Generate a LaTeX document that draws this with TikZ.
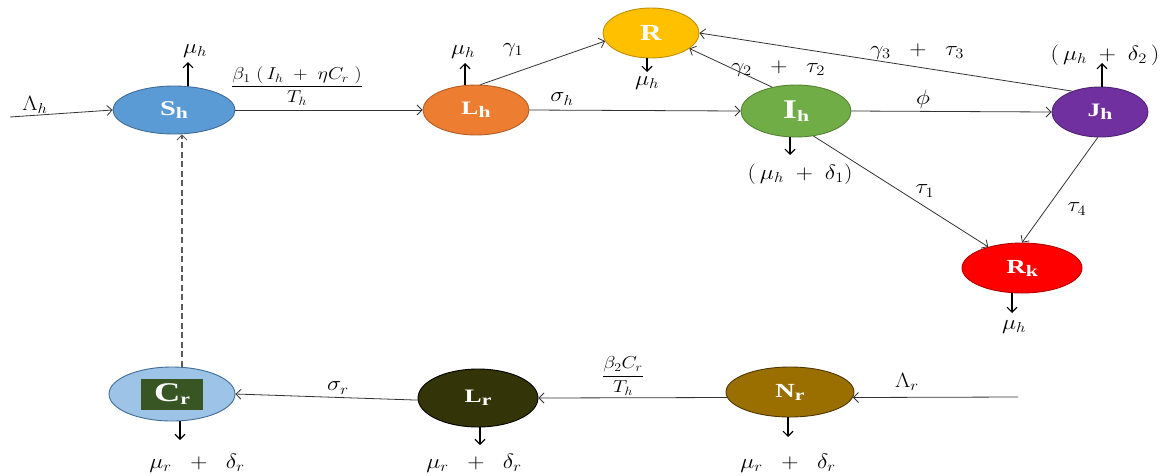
\documentclass[tikz,border=0pt]{standalone}
\usepackage{amsmath}
\usepackage{graphicx}
\usepackage{fontspec}
\setmainfont{Liberation Serif}
\usetikzlibrary{shapes.geometric,arrows.meta}
\definecolor{cSh}{HTML}{5B9BD5}
\definecolor{cLh}{HTML}{ED7D31}
\definecolor{cR}{HTML}{FFC000}
\definecolor{cIh}{HTML}{70AD47}
\definecolor{cJh}{HTML}{7030A0}
\definecolor{cRk}{HTML}{FF0000}
\definecolor{cCr}{HTML}{9DC3E6}
\definecolor{cCrbox}{HTML}{375623}
\definecolor{cLr}{HTML}{343409}
\definecolor{cNr}{HTML}{9A6F00}
\definecolor{lineg}{HTML}{333333}
\newcommand{\ws}[1]{\scalebox{1.15}[1]{#1}}
\newcommand{\nlab}[3][20]{\scalebox{1.35}[1]{{\fontsize{#1}{#1}\selectfont #2}\raisebox{-0.3em}{\fontsize{16}{16}\selectfont #3}}}
\newcommand{\pl}{\;\;+\;\;}
\tikzset{
  comp/.style={ellipse, inner sep=0pt, line width=0.9pt, text=white, font=\bfseries},
  flow/.style={draw=lineg, line width=0.8pt, -{Straight Barb[length=5pt,width=10pt,line width=0.8pt]}},
  outf/.style={draw=black, line width=1.3pt, -{Straight Barb[length=5pt,width=10pt,line width=1.1pt]}},
  lab/.style={inner sep=1pt, font=\fontsize{20}{23}\selectfont},
  flab/.style={inner sep=1pt, font=\fontsize{17}{20}\selectfont},
}
\begin{document}
\begin{tikzpicture}[x=1pt,y=-1pt]
\useasboundingbox (0,0) rectangle (1161,475);
% compartments
\node[comp, fill=cSh, draw=cSh!70!black, minimum width=122pt, minimum height=48pt] (Sh) at (174,110) {\nlab[21]{S}{h}};
\node[comp, fill=cLh, draw=cLh!75!black, minimum width=106pt, minimum height=50pt] (Lh) at (476,110) {\nlab[19]{L}{h}};
\node[comp, fill=cR, draw=cR!75!black, minimum width=96pt, minimum height=50pt] (R) at (651,33) {\scalebox{1.3}[1]{\fontsize{23}{23}\selectfont R}};
\node[comp, fill=cIh, draw=cIh!75!black, minimum width=110pt, minimum height=52pt] (Ih) at (796,111) {\nlab[27]{I}{h}};
\node[comp, fill=cJh, draw=cJh!70!black, minimum width=96pt, minimum height=50pt] (Jh) at (1100,112) {\nlab[19]{J}{h}};
\node[comp, fill=cRk, draw=cRk!70!black, minimum width=120pt, minimum height=50pt] (Rk) at (1022,268) {\nlab[20]{R}{k}};
\node[comp, fill=cCr, draw=cSh!70!black, minimum width=126pt, minimum height=54pt] (Cr) at (172,394) {};
\node[fill=cCrbox, text=white, font=\bfseries, minimum width=62pt, minimum height=31pt, inner sep=0pt] (Crl) at (Cr.center) {\nlab[27]{C}{r}};
\node[comp, fill=cLr, draw=black, minimum width=120pt, minimum height=58pt] (Lr) at (478,398) {\nlab[19]{L}{r}};
\node[comp, fill=cNr, draw=cNr!50!black, minimum width=128pt, minimum height=50pt] (Nr) at (790,392) {\nlab[20]{N}{r}};

% free ends
\coordinate (inLh) at (10,117);
\coordinate (inLr) at (1018,397);
\coordinate (oSh) at (188,62);
\coordinate (oLh) at (465,63);
\coordinate (oR) at (647,72);
\coordinate (oJh) at (1102,63);
\coordinate (oIh) at (790,155);
\coordinate (oRk) at (1012,313);
\coordinate (oCr) at (180,440);
\coordinate (oLr) at (480,445);
\coordinate (oNr) at (788,437);
\coordinate (dx) at (182,0);

% labels
\node[lab] (tLamh) at (35,105) {\ws{$\Lambda_h$}};
\node[lab] (tmuS) at (195,51) {\ws{$\mu_h$}};
\node[flab] (tbeta1) at (297,86) {\ws{$\dfrac{\beta_1\;(\,I_h\;+\;\eta C_r\;)}{T_h}$}};
\node[lab] (tmuL) at (463,52) {\ws{$\mu_h$}};
\node[lab] (tg1) at (513,50) {\ws{$\gamma_1$}};
\node[lab] (tmuR) at (647,83) {\ws{$\mu_h$}};
\node[lab] (tsh) at (562,99) {\ws{$\sigma_h$}};
\node[lab] (tg2) at (778,69) {\ws{$\gamma_2\pl\tau_2$}};
\node[lab] (tg3) at (917,52) {\ws{$\gamma_3\pl\tau_3$}};
\node[lab] (tphi) at (923,99) {\ws{$\phi$}};
\node[lab] (td2) at (1105,55) {\ws{$(\,\mu_h\;+\;\delta_2\,)$}};
\node[lab] (td1) at (800,174) {\ws{$(\,\mu_h\;+\;\delta_1)$}};
\node[lab] (tt1) at (925,191) {\ws{$\tau_1$}};
\node[lab] (tt4) at (1077,209) {\ws{$\tau_4$}};
\node[lab] (tmuRk) at (1014,327) {\ws{$\mu_h$}};
\node[flab] (tbeta2) at (623,376) {\ws{$\dfrac{\beta_2 C_r}{T_h}$}};
\node[lab] (tLamr) at (907,382) {\ws{$\Lambda_r$}};
\node[lab] (tsr) at (338,388) {\ws{$\sigma_r$}};
\node[lab] (tdCr) at (197,463) {\ws{$\mu_r\pl\delta_r$}};
\node[lab] (tdLr) at (474,463) {\ws{$\mu_r\pl\delta_r$}};
\node[lab] (tdNr) at (788,463) {\ws{$\mu_r\pl\delta_r$}};

% connectors
\draw[flow] (inLh) -- (Sh.west);
\draw[flow] (Sh.east) -- (Lh.west);
\draw[flow] (Lh.80) -- (R.190);
\draw[flow] (Lh.east) -- (Ih.west);
\draw[flow] (Ih.135) -- (R.338);
\draw[flow] (Jh.143) -- (R.east);
\draw[flow] (Ih.east) -- (Jh.west);
\draw[flow] (Ih.305) -- (Rk.148);
\draw[flow] (Jh.265) -- (Rk.north);
\draw[flow] (inLr) -- (Nr.355);
\draw[flow] (Nr.185) -- (Lr.east);
\draw[flow] (Lr.182) -- (Cr.east);
\draw[draw=lineg!80, line width=1.4pt, dash pattern=on 6pt off 3.5pt, -{Straight Barb[length=5pt,width=10pt,line width=0.8pt]}] (Cr.north -| dx) -- (Sh.south -| dx);

% outflows
\draw[outf] (oSh |- Sh.north) -- (oSh);
\draw[outf] (oLh |- Lh.north) -- (oLh);
\draw[outf] (oR |- R.south) -- (oR);
\draw[outf] (oJh |- Jh.north) -- (oJh);
\draw[outf] (oIh |- Ih.south) -- (oIh);
\draw[outf] (oRk |- Rk.south) -- (oRk);
\draw[outf] (oCr |- Cr.south) -- (oCr);
\draw[outf] (oLr |- Lr.south) -- (oLr);
\draw[outf] (oNr |- Nr.south) -- (oNr);
\end{tikzpicture}
\end{document}
